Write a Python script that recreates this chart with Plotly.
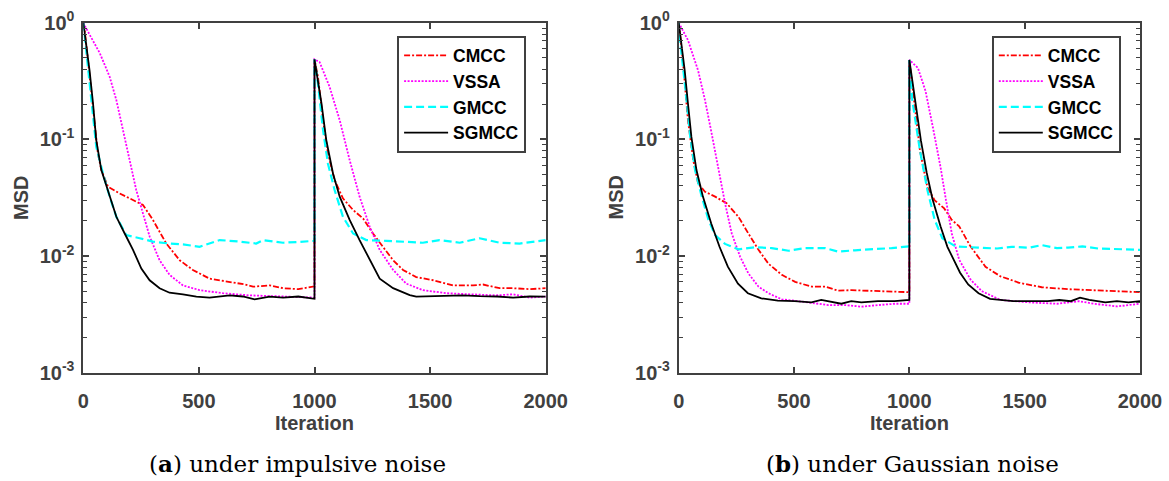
import plotly.graph_objects as go

W, H = 1169, 481

# ---------------- data ----------------
# (a) under impulsive noise
cmcc_a_x = [0, 6, 20, 39, 63, 78, 107, 157, 215, 258, 301, 359, 417, 474, 546, 633, 700, 734, 806, 864, 930, 1000, 1000,
            1015, 1037, 1058, 1087, 1123, 1167, 1210, 1253, 1296, 1340, 1383, 1440, 1513, 1599, 1686, 1729, 1801, 1859, 1931, 2000]
cmcc_a_y = [1.0, 0.87, 0.48, 0.204, 0.076, 0.0546, 0.0393, 0.0344, 0.0302, 0.0274, 0.0204, 0.0128, 0.0092, 0.0076, 0.0064, 0.006, 0.0057, 0.00546, 0.0056, 0.0053, 0.0052, 0.0055, 0.485,
            0.344, 0.146, 0.076, 0.0448, 0.0312, 0.0248, 0.021, 0.0156, 0.012, 0.0092, 0.0076, 0.0066, 0.0062, 0.0056, 0.0056, 0.0057, 0.0053, 0.0053, 0.0052, 0.0053]

vssa_a_x = [0, 13, 71, 114, 143, 172, 200, 229, 258, 287, 330, 373, 431, 503, 604, 720, 864, 1000, 1000,
            1022, 1065, 1109, 1152, 1195, 1239, 1282, 1340, 1397, 1469, 1570, 1671, 1786, 1859, 1931, 2000]
vssa_a_y = [1.0, 0.89, 0.55, 0.344, 0.217, 0.12, 0.0665, 0.0368, 0.0232, 0.0147, 0.0092, 0.0069, 0.0056, 0.0051, 0.0048, 0.0046, 0.0045, 0.0044, 0.485,
            0.46, 0.283, 0.146, 0.0665, 0.0323, 0.0178, 0.0113, 0.0076, 0.0058, 0.0051, 0.0048, 0.0047, 0.0046, 0.0047, 0.0044, 0.0045]

gmcc_a_x = [0, 13, 35, 56, 85, 114, 143, 186, 244, 301, 373, 431, 503, 590, 676, 748, 777, 864, 930, 1000, 1000,
            1015, 1037, 1058, 1087, 1123, 1167, 1224, 1311, 1397, 1469, 1541, 1628, 1714, 1801, 1887, 2000]
gmcc_a_y = [1.0, 0.55, 0.204, 0.0865, 0.051, 0.0323, 0.0217, 0.0151, 0.0142, 0.0133, 0.0128, 0.0126, 0.012, 0.0137, 0.0133, 0.0128, 0.0137, 0.013, 0.0132, 0.0135, 0.485,
            0.30, 0.12, 0.0622, 0.0368, 0.0217, 0.0156, 0.0137, 0.0135, 0.0133, 0.013, 0.0137, 0.013, 0.0142, 0.013, 0.0128, 0.0137]

sgmcc_a_x = [0, 27, 42, 56, 78, 107, 143, 179, 215, 251, 287, 330, 373, 431, 489, 546, 600, 633, 690, 741, 806, 864, 930, 1000, 1000,
             1030, 1051, 1080, 1109, 1152, 1195, 1239, 1282, 1340, 1412, 1440, 1500, 1570, 1640, 1714, 1790, 1859, 1930, 2000]
sgmcc_a_y = [1.0, 0.39, 0.204, 0.0986, 0.0546, 0.0368, 0.0217, 0.0156, 0.0113, 0.0078, 0.0062, 0.0053, 0.00485, 0.00469, 0.00448, 0.0044, 0.0045, 0.0046, 0.0045, 0.00425, 0.00448, 0.0044, 0.0045, 0.0043, 0.485,
             0.204, 0.0986, 0.051, 0.0323, 0.0204, 0.0137, 0.0092, 0.0064, 0.0053, 0.00463, 0.00448, 0.0045, 0.00453, 0.0046, 0.00453, 0.0045, 0.0044, 0.0045, 0.00448]

# (b) under Gaussian noise
cmcc_b_x = [0, 4, 19, 40, 63, 84, 114, 158, 208, 259, 302, 346, 389, 447, 505, 577, 635, 692, 750, 808, 866, 938, 1000, 1000,
            1021, 1046, 1078, 1110, 1151, 1184, 1216, 1265, 1330, 1395, 1476, 1574, 1688, 1818, 1900, 2000]
cmcc_b_y = [1.0, 0.87, 0.45, 0.146, 0.0665, 0.042, 0.0356, 0.0323, 0.0283, 0.0217, 0.0156, 0.0113, 0.0086, 0.0069, 0.006, 0.00546, 0.00546, 0.00505, 0.0051, 0.00505, 0.005, 0.0049, 0.0049, 0.48,
            0.215, 0.08, 0.039, 0.030, 0.0256, 0.0204, 0.018, 0.0121, 0.0081, 0.0067, 0.0059, 0.0054, 0.0052, 0.0051, 0.005, 0.0049]

vssa_b_x = [0, 40, 84, 114, 143, 172, 201, 230, 266, 302, 346, 389, 447, 519, 577, 649, 721, 793, 866, 938, 1000, 1000,
            1037, 1070, 1102, 1135, 1159, 1184, 1216, 1265, 1314, 1395, 1525, 1640, 1736, 1800, 1900, 2000]
vssa_b_y = [1.0, 0.71, 0.39, 0.217, 0.112, 0.0546, 0.0283, 0.0156, 0.0099, 0.0071, 0.00546, 0.0048, 0.00425, 0.0041, 0.00394, 0.0038, 0.0038, 0.00368, 0.0038, 0.0039, 0.0039, 0.48,
            0.41, 0.26, 0.127, 0.058, 0.030, 0.0156, 0.0093, 0.0063, 0.005, 0.0042, 0.004, 0.0039, 0.0041, 0.0039, 0.0037, 0.0039]

gmcc_b_x = [0, 4, 28, 50, 71, 100, 129, 158, 201, 259, 331, 403, 476, 548, 635, 692, 764, 836, 923, 1000, 1000,
            1013, 1046, 1078, 1110, 1143, 1200, 1298, 1380, 1444, 1520, 1574, 1640, 1688, 1750, 1818, 1900, 2000]
gmcc_b_y = [1.0, 0.76, 0.283, 0.105, 0.0546, 0.0323, 0.0204, 0.0151, 0.0127, 0.0114, 0.0119, 0.0117, 0.0111, 0.0117, 0.0117, 0.0109, 0.0112, 0.0114, 0.0117, 0.0121, 0.48,
            0.215, 0.08, 0.037, 0.0204, 0.0142, 0.0121, 0.0118, 0.0116, 0.012, 0.0118, 0.0124, 0.0117, 0.0118, 0.0121, 0.0116, 0.0114, 0.0113]

sgmcc_b_x = [0, 26, 40, 55, 77, 105, 141, 177, 213, 257, 300, 358, 430, 503, 575, 618, 705, 748, 792, 864, 936, 1000, 1000,
             1030, 1050, 1075, 1100, 1135, 1165, 1190, 1220, 1255, 1300, 1350, 1400, 1450, 1520, 1600, 1650, 1700, 1740, 1780, 1850, 1900, 1950, 2000]
sgmcc_b_y = [1.0, 0.39, 0.204, 0.105, 0.0546, 0.0323, 0.019, 0.012, 0.0081, 0.0058, 0.0048, 0.00434, 0.00414, 0.0041, 0.004, 0.0042, 0.0039, 0.0041, 0.004, 0.0041, 0.0041, 0.0042, 0.48,
             0.19, 0.098, 0.052, 0.031, 0.018, 0.012, 0.0095, 0.0072, 0.0057, 0.0048, 0.0043, 0.0042, 0.0041, 0.0041, 0.0041, 0.0042, 0.0041, 0.0044, 0.0042, 0.0040, 0.0041, 0.0040, 0.0041]

series_names = ["CMCC", "VSSA", "GMCC", "SGMCC"]
x_ticks = [0, 500, 1000, 1500, 2000]
y_ticks = [0.001, 0.01, 0.1, 1]
y_ticktext = ["10<sup>-3</sup>", "10<sup>-2</sup>", "10<sup>-1</sup>", "10<sup>0</sup>"]
captions = ["(<b>a</b>) under impulsive noise", "(<b>b</b>) under Gaussian noise"]

# ---------------- styling ----------------
styles = {
    "CMCC": dict(color="#FF0000", dash="6px,2px,2px,2px", width=1.8),
    "VSSA": dict(color="#FF00FF", dash="2px,1.5px", width=1.8),
    "GMCC": dict(color="#00FFFF", dash="8px,4px", width=2.2),
    "SGMCC": dict(color="#000000", dash="solid", width=1.8),
}
AX = "#404040"
SANS = "Liberation Sans, Arial, sans-serif"

def px_x(p):
    return p / W

def px_y(p):
    return 1 - p / H

fig = go.Figure()

panels = [
    ("x", "y", "legend", [(cmcc_a_x, cmcc_a_y), (vssa_a_x, vssa_a_y), (gmcc_a_x, gmcc_a_y), (sgmcc_a_x, sgmcc_a_y)]),
    ("x2", "y2", "legend2", [(cmcc_b_x, cmcc_b_y), (vssa_b_x, vssa_b_y), (gmcc_b_x, gmcc_b_y), (sgmcc_b_x, sgmcc_b_y)]),
]
for xa, ya, lg, data in panels:
    for name, (xs, ys) in zip(series_names, data):
        st = styles[name]
        fig.add_trace(go.Scatter(
            x=xs, y=ys, mode="lines", name=name, xaxis=xa, yaxis=ya, legend=lg,
            line=dict(color=st["color"], dash=st["dash"], width=st["width"]),
        ))

plot_top, plot_bot = 22.7, 372.7
doms = [(83.3, 545.7), (678.7, 1140.0)]

def xaxis_cfg(dom, anchor):
    return dict(domain=[px_x(dom[0]), px_x(dom[1])], anchor=anchor, range=[0, 2000], automargin=False,
                tickvals=x_ticks, ticks="inside", ticklen=6, tickwidth=1.5, tickcolor=AX,
                showline=True, linecolor=AX, linewidth=1.8, mirror="ticks", showgrid=False, zeroline=False,
                tickfont=dict(family=SANS, size=20, color=AX, weight="bold"), ticklabelstandoff=9)

def yaxis_cfg(anchor):
    return dict(domain=[px_y(plot_bot), px_y(plot_top)], anchor=anchor, type="log", range=[-3, 0], automargin=False,
                tickvals=y_ticks, ticktext=y_ticktext, ticks="inside", ticklen=6, tickwidth=1.5, tickcolor=AX,
                minor=dict(ticks="inside", ticklen=4, tickwidth=1.2, tickcolor=AX, dtick="D1", showgrid=False),
                showline=True, linecolor=AX, linewidth=1.8, mirror="ticks", showgrid=False, zeroline=False,
                tickfont=dict(family=SANS, size=20, color=AX, weight="bold"), ticklabelstandoff=3)

legend_cfg = dict(bgcolor="white", bordercolor=AX, borderwidth=1.8,
                  font=dict(family=SANS, size=17.5, color="black", weight="bold"),
                  xanchor="left", yanchor="top", itemwidth=44, tracegroupgap=0)

annotations = []
for i, dom in enumerate(doms):
    cx = (dom[0] + dom[1]) / 2
    annotations.append(dict(text="<b>Iteration</b>", x=px_x(cx), y=px_y(423), xref="paper", yref="paper",
                            showarrow=False, font=dict(family=SANS, size=20, color=AX), xanchor="center", yanchor="middle"))
    annotations.append(dict(text="<b>MSD</b>", x=px_x(dom[0] - 63), y=px_y((plot_top + plot_bot) / 2), xref="paper", yref="paper",
                            showarrow=False, textangle=-90, font=dict(family=SANS, size=20, color=AX), xanchor="center", yanchor="middle"))
    annotations.append(dict(text=captions[i], x=px_x(cx - 17 if i == 0 else cx + 3), y=px_y(463), xref="paper", yref="paper",
                            showarrow=False, font=dict(family="DejaVu Serif, serif", size=23, color="black"), xanchor="center", yanchor="middle"))

fig.update_layout(
    width=W, height=H, margin=dict(l=0, r=0, t=0, b=0, autoexpand=False),
    paper_bgcolor="white", plot_bgcolor="white",
    xaxis=xaxis_cfg(doms[0], "y"), yaxis=yaxis_cfg("x"),
    xaxis2=xaxis_cfg(doms[1], "y2"), yaxis2=yaxis_cfg("x2"),
    legend=dict(legend_cfg, x=px_x(397.3), y=px_y(35.7)),
    legend2=dict(legend_cfg, x=px_x(992), y=px_y(35.7)),
    annotations=annotations,
    showlegend=True,
)

fig.write_html("out.html", config={"displayModeBar": False},
               post_script="document.body.style.margin='0px';")
